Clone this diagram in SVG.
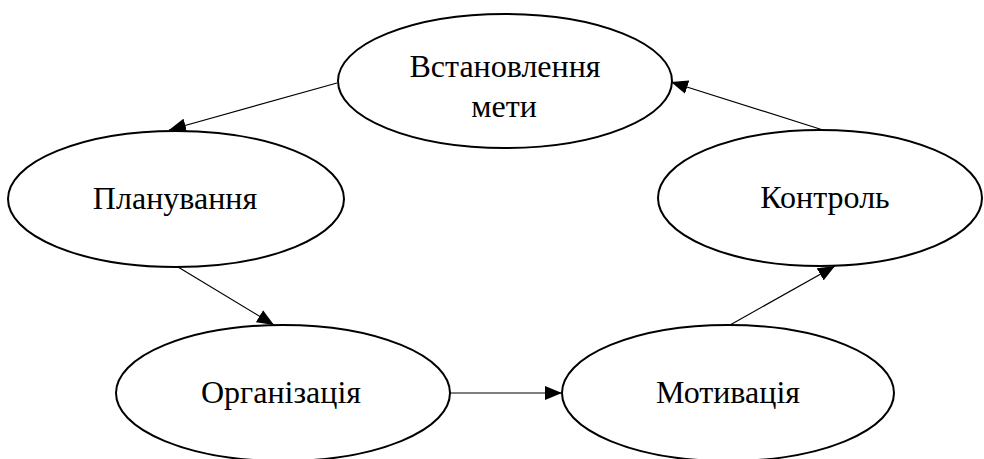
<svg xmlns="http://www.w3.org/2000/svg" width="984" height="459" viewBox="0 0 984 459">
<style>
.node ellipse{fill:#fff;stroke:#000;stroke-width:2}
.node text{font-family:"Liberation Serif","Times New Roman",serif;font-size:32px;fill:#000;text-anchor:middle}
.conn line{stroke:#000;stroke-width:1.2;marker-end:url(#arr)}
</style>
<defs>
<marker id="arr" markerUnits="userSpaceOnUse" markerWidth="17" markerHeight="14" viewBox="0 0 17 14" refX="17" refY="7" orient="auto">
<path d="M0,0 L17,7 L0,14 z" fill="#000"/>
</marker>
</defs>
<rect width="984" height="459" fill="#fff"/>
<g id="connectors" class="conn">
<line x1="337" y1="83" x2="169" y2="130"/>
<line x1="178" y1="267" x2="274" y2="325"/>
<line x1="450" y1="393" x2="562" y2="393"/>
<line x1="730" y1="325" x2="835" y2="266"/>
<line x1="823" y1="130" x2="671" y2="82"/>
</g>
<g id="node-goal" class="node">
<ellipse cx="505" cy="81" rx="167" ry="67"/>
<text x="505" y="77">Встановлення</text>
<text x="504" y="117">мети</text>
</g>
<g id="node-planning" class="node">
<ellipse cx="176" cy="199" rx="168" ry="68"/>
<text x="175" y="209">Планування</text>
</g>
<g id="node-control" class="node">
<ellipse cx="820" cy="198" rx="162" ry="68"/>
<text x="825" y="208">Контроль</text>
</g>
<g id="node-organization" class="node">
<ellipse cx="283" cy="393" rx="167" ry="68"/>
<text x="281" y="403">Організація</text>
</g>
<g id="node-motivation" class="node">
<ellipse cx="728" cy="393" rx="166" ry="68"/>
<text x="728" y="403">Мотивація</text>
</g>
</svg>
